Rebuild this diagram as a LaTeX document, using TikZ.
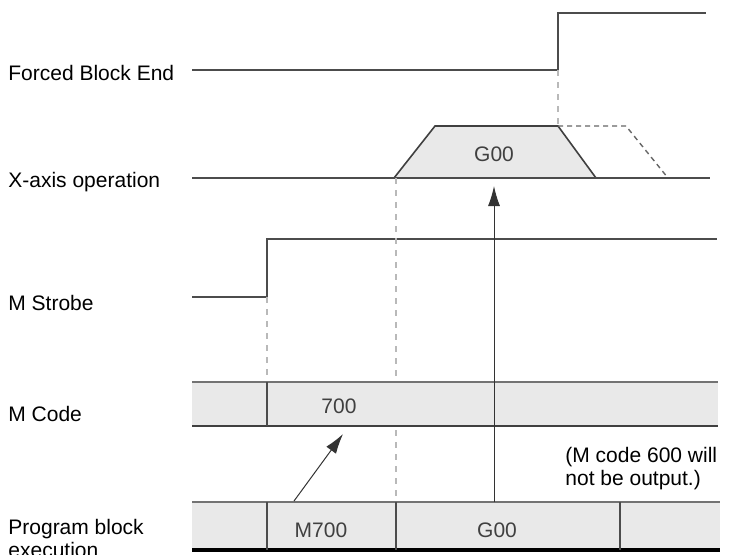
\documentclass[tikz,border=0pt]{standalone}
\usepackage{fontspec}
\setmainfont{Liberation Sans}
\usetikzlibrary{arrows.meta}

\begin{document}
\begin{tikzpicture}[x=0.5pt, y=-0.5pt,
    lbl/.style={anchor=base west, inner sep=0pt, align=left,
      font=\fontsize{10.5}{11.5}\selectfont},
    sig/.style={line width=1pt, black!70},
    guide/.style={gray!55, line width=0.6pt, dash pattern=on 3pt off 3pt},
    band/.style={fill=gray!17, draw=none},
    cell/.style={black!70, line width=0.6pt},
    val/.style={inner sep=0pt, text=black!75, font=\fontsize{10.5}{11.5}\selectfont},
    cause/.style={-{Latex[length=10pt,width=6pt]}, black!80, line width=0.5pt}]
  \useasboundingbox (0,0) rectangle (732,554);

  % Row labels (two-line nodes sit on the baseline of their last line)
  \node[lbl] (fbe) at (8,80) {Forced Block End};
  \node[lbl] (xop) at (8,187) {X-axis operation};
  \node[lbl] (mstb) at (8,310) {M Strobe};
  \node[lbl] (mcd) at (8,421) {M Code};
  \node[lbl] (pbx) at (8,557) {Program block\\execution};

  % Forced Block End
  \draw[sig] (192,70) -- (558,70) -- (558,13) -- (706,13);
  \draw[guide] (558,70) -- (558,126);

  % X-axis operation (G00 move, and where it would have ended)
  \draw[fill=gray!17, draw=black!75, line width=0.8pt]
    (394,178) -- (435,126) -- (558,126) -- (596,178);
  \draw[black!60, line width=0.7pt, dash pattern=on 2.5pt off 2pt]
    (558,126) -- (626,126) -- (668,178);
  \draw[sig] (192,178) -- (710,178);
  \node[val] (gx) at (494,154) {G00};

  % M Strobe
  \draw[sig] (192,297) -- (267,297) -- (267,239) -- (717,239);
  \draw[guide] (267,297) -- (267,382);
  \draw[guide] (396,178) -- (396,502);

  % M Code band
  \fill[band] (192,382) rectangle (718,426);
  \draw[black!55, line width=1pt] (192,382) -- (718,382);
  \draw[black!75, line width=1.1pt] (192,426) -- (718,426);
  \draw[cell] (267,382) -- (267,426);
  \node[val] (mc) at (339,406) {700};

  % Program block band
  \fill[band] (192,502) rectangle (720,549);
  \draw[black!55, line width=1pt] (192,502) -- (720,502);
  \draw[black, line width=1.6pt] (192,550) -- (720,550);
  \foreach \x in {267, 396, 620} {
    \draw[cell] (\x,502) -- (\x,550);
  }
  \node[val] (pm) at (321,530) {M700};
  \node[val] (pg) at (497,530) {G00};

  % Note between the bands
  \node[lbl] (note) at (565,485) {(M code 600 will\\not be output.)};

  % Cause arrows
  \draw[cause] (294,501) -- (343,434);
  \draw[cause] (494,502) -- (494,186);
\end{tikzpicture}
\end{document}
